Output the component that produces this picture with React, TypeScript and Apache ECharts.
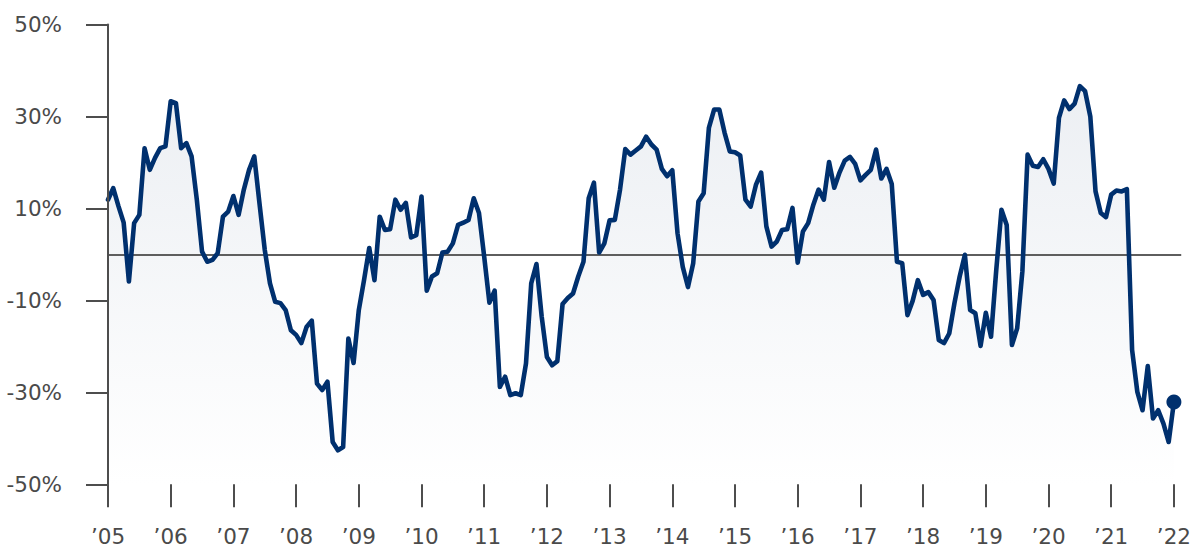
import React, { useEffect, useRef } from "react";
import * as echarts from "echarts";

// Monthly values, Jan 2005 .. Jan 2022 (percent)
const values: number[] = [
  11.9, 14.4, 10.5, 6.9, -5.9, 6.8, 8.6, 23.1, 18.4, 21.0,
  23.1, 23.5, 33.3, 32.9, 23.1, 24.2, 21.3, 11.9, 0.6, -1.6,
  -1.2, 0.3, 8.2, 9.3, 12.7, 8.6, 14.1, 18.4, 21.3, 11.0,
  1.0, -6.3, -10.3, -10.6, -12.1, -16.5, -17.5, -19.3, -15.8, -14.4,
  -28.1, -29.5, -27.7, -40.8, -42.6, -41.9, -18.3, -23.6, -12.1, -5.6,
  1.4, -5.6, 8.2, 5.3, 5.5, 11.9, 9.7, 11.2, 3.7, 4.2,
  12.6, -7.9, -4.8, -4.1, 0.4, 0.6, 2.4, 6.4, 6.9, 7.5,
  12.2, 9.0, -0.5, -10.5, -7.9, -28.8, -26.6, -30.6, -30.2, -30.6,
  -23.7, -6.3, -2.1, -13.5, -22.3, -24.1, -23.2, -10.8, -9.5, -8.5,
  -4.8, -1.6, 12.2, 15.6, 0.4, 2.4, 7.4, 7.5, 14.1, 22.9,
  21.7, 22.6, 23.5, 25.6, 23.9, 22.8, 18.6, 17.0, 18.3, 4.6,
  -2.7, -7.1, -1.9, 11.5, 13.3, 27.5, 31.5, 31.5, 26.5, 22.4,
  22.2, 21.5, 11.9, 10.4, 15.1, 17.8, 6.1, 1.7, 2.8, 5.3,
  5.5, 10.1, -1.8, 5.0, 6.8, 10.8, 14.1, 11.9, 20.1, 14.5,
  17.8, 20.4, 21.2, 19.7, 16.1, 17.3, 18.4, 22.8, 16.5, 18.6,
  15.3, -1.6, -1.9, -13.2, -10.1, -5.6, -8.8, -8.2, -9.9, -18.6,
  -19.3, -17.2, -10.6, -4.8, -0.1, -12.1, -12.8, -19.9, -12.7, -17.9,
  -3.4, 9.7, 6.4, -19.7, -16.1, -3.7, 21.7, 19.3, 19.0, 20.7,
  18.6, 15.4, 29.7, 33.5, 31.6, 32.8, 36.6, 35.5, 30.0, 13.7,
  9.0, 8.1, 13.0, 13.9, 13.7, 14.2, -20.8, -29.9, -33.9, -24.3,
  -35.7, -33.9, -36.8, -40.8, -32.1,
];

const yearLabels: string[] = [
  "’05", "’06", "’07", "’08", "’09", "’10", "’11", "’12", "’13",
  "’14", "’15", "’16", "’17", "’18", "’19", "’20", "’21", "’22",
];

const yTicks: number[] = [-50, -30, -10, 10, 30, 50];

const MONTHS_PER_YEAR = 12;

export default function App() {
  const ref = useRef<HTMLDivElement>(null);

  useEffect(() => {
    if (!ref.current) return;
    const chart = echarts.init(ref.current, undefined, { renderer: "svg" });
    const pts = values.map((v, i) => [i, v]);
    const last = pts[pts.length - 1];
    const yearTicks = yearLabels.map((_, i) => i * MONTHS_PER_YEAR);
    const axisColor = "#4d4d4d";
    const font = "DejaVu Sans";

    chart.setOption({
      animation: false,
      grid: { left: 108, right: 12, top: 24.5, bottom: 67.7, containLabel: false },
      xAxis: {
        type: "value",
        min: 0,
        max: 205.4,
        position: "bottom",
        offset: 23,
        z: 10,
        splitLine: { show: false },
        axisLine: { show: false, onZero: false },
        axisTick: {
          show: true,
          inside: true,
          length: 23,
          customValues: yearTicks,
          lineStyle: { color: axisColor, width: 2 },
        },
        axisLabel: {
          customValues: yearTicks,
          formatter: (v: number) => yearLabels[Math.round(v / MONTHS_PER_YEAR)] ?? "",
          color: "#4a4a4a",
          fontSize: 21.5,
          fontFamily: font,
          margin: 18,
        },
      },
      yAxis: {
        type: "value",
        min: yTicks[0],
        max: yTicks[yTicks.length - 1],
        interval: 20,
        z: 10,
        splitLine: { show: false },
        axisLine: { show: true, lineStyle: { color: axisColor, width: 2 } },
        axisTick: { show: true, length: 22, lineStyle: { color: axisColor, width: 2 } },
        axisLabel: {
          formatter: (v: number) => `${v}%`,
          color: "#4a4a4a",
          fontSize: 21.5,
          fontFamily: font,
          margin: 46,
        },
      },
      series: [
        {
          type: "line",
          data: pts,
          z: 1,
          symbol: "none",
          lineStyle: { width: 0 },
          areaStyle: {
            origin: "start",
            opacity: 1,
            color: new echarts.graphic.LinearGradient(0, 0, 0, 1, [
              { offset: 0, color: "#eceff3" },
              { offset: 1, color: "#ffffff" },
            ]),
          },
          markLine: {
            silent: true,
            symbol: "none",
            z: 2,
            label: { show: false },
            lineStyle: { color: "#5e5e5e", width: 1.8, type: "solid" },
            data: [{ yAxis: 0 }],
          },
        },
        {
          type: "line",
          data: pts,
          z: 3,
          symbol: "none",
          lineStyle: { color: "#00306e", width: 4.6, join: "round", cap: "round" },
        },
        {
          type: "scatter",
          data: [last],
          z: 4,
          symbol: "circle",
          symbolSize: 15,
          itemStyle: { color: "#00306e", opacity: 1 },
        },
      ],
    });
    return () => chart.dispose();
  }, []);

  return (
    <div
      ref={ref}
      style={{ position: "absolute", left: 0, top: 0, width: 1194, height: 552 }}
    />
  );
}
